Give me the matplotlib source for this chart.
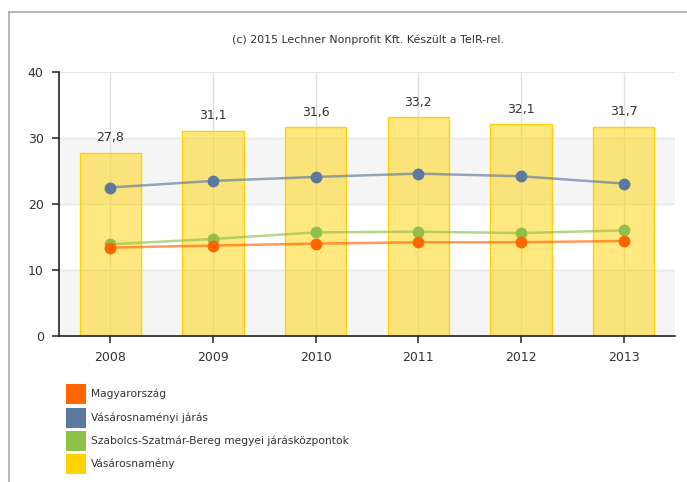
import numpy as np
import matplotlib
matplotlib.use('Agg')
import matplotlib.pyplot as plt
from matplotlib.patches import Rectangle
from matplotlib.lines import Line2D

years = ['2008', '2009', '2010', '2011', '2012', '2013']

# Vásárosnamény (bars)
vasarosnameny = [27.8, 31.1, 31.6, 33.2, 32.1, 31.7]
# lines
magyarorszag = [13.4, 13.7, 14.0, 14.2, 14.2, 14.4]
jaras = [22.5, 23.5, 24.1, 24.6, 24.2, 23.1]
jaraskozpontok = [13.9, 14.7, 15.7, 15.8, 15.6, 16.0]

names = ['Magyarország', 'Vásárosnaményi járás',
         'Szabolcs-Szatmár-Bereg megyei járásközpontok', 'Vásárosnamény']
colors = ['#FF6600', '#5B7A9E', '#8FC04A', '#FFD200']

fig = plt.figure(figsize=(6.87, 4.82), dpi=100)
ax = fig.add_axes([59/687, 1 - 336/482, 616/687, 264/482])

x = np.arange(len(years))

# alternating background bands
ax.axhspan(0, 10, color='#f5f5f5', zorder=0, lw=0)
ax.axhspan(20, 30, color='#f5f5f5', zorder=0, lw=0)
for yv in [10, 20, 30, 40]:
    ax.axhline(yv, color='#e6e6e6', lw=1, zorder=0.5)
for xv in x:
    ax.axvline(xv, color='#e2e2e2', lw=1, zorder=0.5)

ax.bar(x, vasarosnameny, width=0.6, color='#FFD200', alpha=0.5, zorder=1)
ax.bar(x, vasarosnameny, width=0.6, fill=False, edgecolor='#FFD200', lw=1, zorder=1.1)
for xi, v in zip(x, vasarosnameny):
    ax.annotate(('%.1f' % v).replace('.', ','), (xi, v), xytext=(0, 6),
                textcoords='offset points', ha='center', va='bottom',
                fontsize=9, color='#333333')

for vals, c in zip([jaras, jaraskozpontok, magyarorszag],
                   [colors[1], colors[2], colors[0]]):
    ax.plot(x, vals, color=c, lw=1.8, alpha=0.65, zorder=2)
    ax.plot(x, vals, 'o', color=c, markersize=7.5, zorder=3)

ax.set_xlim(-0.5, 5.5)
ax.set_ylim(0, 40)
ax.set_xticks(x)
ax.set_xticklabels(years)
ax.set_yticks([0, 10, 20, 30, 40])
ax.tick_params(axis='both', labelsize=9, colors='#333333', length=5, width=1.2)
ax.tick_params(axis='y', pad=6)
ax.tick_params(axis='x', pad=6)
for s in ['top', 'right']:
    ax.spines[s].set_visible(False)
for s in ['left', 'bottom']:
    ax.spines[s].set_color('#222222')
    ax.spines[s].set_linewidth(1.2)

fig.text(368/687, 1 - 40/482, '(c) 2015 Lechner Nonprofit Kft. Készült a TeIR-rel.',
         ha='center', va='center', fontsize=7.9, color='#333333')

# legend
row_y = [394, 418, 441, 464]
for name, c, yy in zip(names, colors, row_y):
    fig.add_artist(Rectangle((66/687, 1 - (yy + 10)/482), 20/687, 20/482,
                             transform=fig.transFigure, color=c, lw=0))
    fig.text(91/687, 1 - yy/482, name, ha='left', va='center',
             fontsize=7.7, color='#333333')

# outer frame
fig.add_artist(Line2D([9/687, 1], [1 - 12/482, 1 - 12/482],
                      transform=fig.transFigure, color='#aaaaaa', lw=1.2))
fig.add_artist(Line2D([9/687, 9/687], [1 - 12/482, 0],
                      transform=fig.transFigure, color='#aaaaaa', lw=1.2))

fig.savefig('out.png', dpi=100)
